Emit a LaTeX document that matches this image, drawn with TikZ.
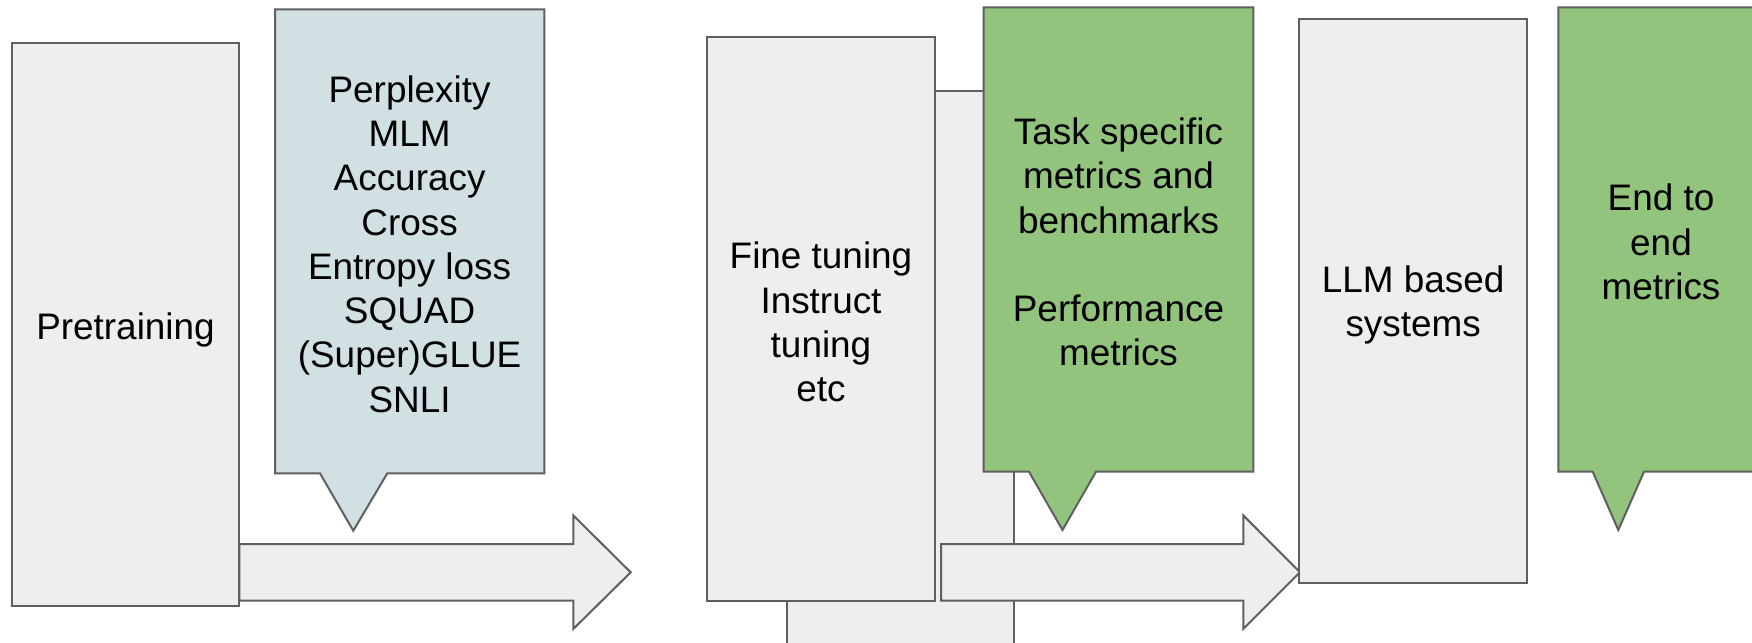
\documentclass[tikz,border=0pt]{standalone}
\usepackage{fontspec}
\setmainfont{Liberation Sans}
\definecolor{boxgray}{HTML}{EEEEEE}
\definecolor{edgegray}{HTML}{5F5F5F}
\definecolor{metricblue}{HTML}{D0E0E3}
\definecolor{metricgreen}{HTML}{93C47D}
\tikzset{
  stage/.style={draw=edgegray, fill=boxgray, line width=0.2mm},
  callout/.style={draw=edgegray, line width=0.2mm, line join=miter},
  lbl/.style={align=center, font=\fontsize{10.5}{12.6}\selectfont, inner sep=0pt}
}
\begin{document}
\begin{tikzpicture}[x=0.1mm,y=-0.1mm]
  \useasboundingbox (0,0) rectangle (1752,642);
  \clip (0,0) rectangle (1752,642);
  \pgfmathsetmacro{\calltop}{7.3}
  \pgfmathsetmacro{\callbot}{471.7}
  \pgfmathsetmacro{\calltip}{530}
  \pgfmathsetmacro{\arrtop}{544}
  \pgfmathsetmacro{\arrbot}{600.7}
  \pgfmathsetmacro{\headtop}{515.4}
  \pgfmathsetmacro{\headbot}{629}
  \pgfmathsetmacro{\arrmid}{572.3}
  % pretraining
  \draw[stage] (11.7,42.7) rectangle (239.3,606.3);
  \draw[stage] (239.3,\arrtop) -- (573.3,\arrtop) -- (573.3,\headtop) -- (630.7,\arrmid)
    -- (573.3,\headbot) -- (573.3,\arrbot) -- (239.3,\arrbot) -- cycle;
  \draw[callout, fill=metricblue] (275,9.3) -- (544.3,9.3) -- (544.3,473.3) -- (387.3,473.3)
    -- (353.3,530.7) -- (320,473.3) -- (275,473.3) -- cycle;
  \node[lbl] (pre) at (125.5,330) {Pretraining};
  \node[lbl] (premetrics) at (409.6,244)
    {Perplexity\\MLM\\Accuracy\\Cross\\Entropy loss\\SQUAD\\(Super)GLUE\\SNLI};
  % fine tuning
  \draw[stage] (786.7,91) rectangle (1014,700);
  \draw[stage] (707.3,37) rectangle (934.7,600.7);
  \draw[callout, fill=metricgreen] (983.7,\calltop) -- (1253.3,\calltop) -- (1253.3,\callbot)
    -- (1096,\callbot) -- (1062.5,\calltip) -- (1029,\callbot) -- (983.7,\callbot) -- cycle;
  \draw[stage] (941,\arrtop) -- (1243.3,\arrtop) -- (1243.3,\headtop) -- (1300,\arrmid)
    -- (1243.3,\headbot) -- (1243.3,\arrbot) -- (941,\arrbot) -- cycle;
  \node[lbl] (finetune) at (821,322) {Fine tuning\\Instruct\\tuning\\etc};
  \node[lbl] (taskmetrics) at (1118.5,242)
    {Task specific\\metrics and\\benchmarks\\[12.6pt]Performance\\metrics};
  % llm systems
  \draw[stage] (1299.3,19.3) rectangle (1527,582.7);
  \draw[callout, fill=metricgreen] (1558.3,\calltop) -- (1766,\calltop) -- (1766,\callbot)
    -- (1644,\callbot) -- (1618.3,\calltip) -- (1592.7,\callbot) -- (1558.3,\callbot) -- cycle;
  \node[lbl] (llm) at (1413.2,305) {LLM based\\systems};
  \node[lbl] (endmetrics) at (1661,242) {End to\\end\\metrics};
\end{tikzpicture}
\end{document}
